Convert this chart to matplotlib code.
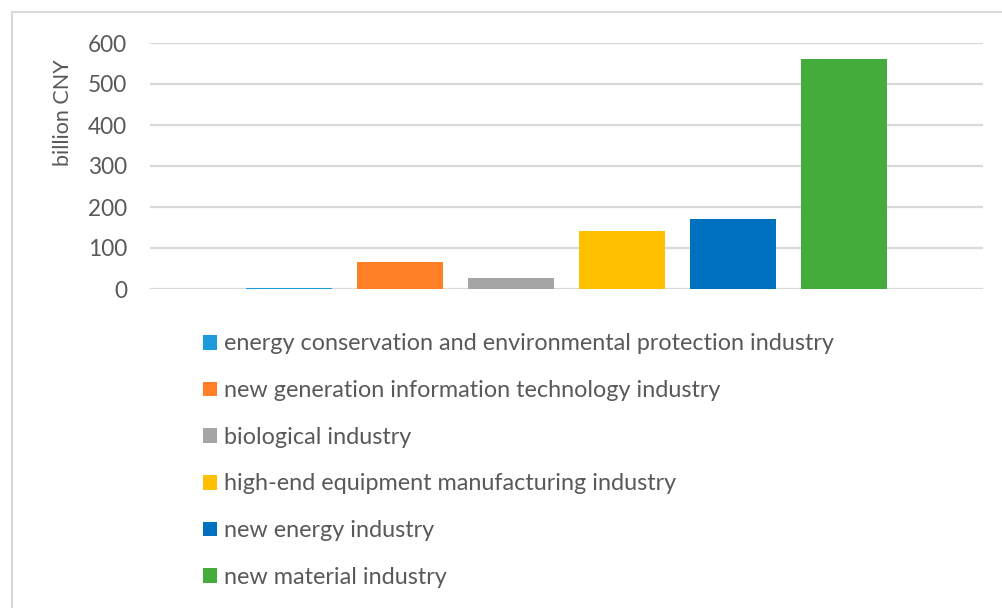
import matplotlib
matplotlib.use("Agg")
import matplotlib.pyplot as plt
from matplotlib.patches import Patch
from matplotlib.lines import Line2D

categories = [
    "energy conservation and environmental protection industry",
    "new generation information technology industry",
    "biological industry",
    "high-end equipment manufacturing industry",
    "new energy industry",
    "new material industry",
]
values = [3, 67, 28, 142, 171, 560]
colors = ["#1E9BDD", "#FF7F27", "#A5A5A5", "#FFC000", "#0070C0", "#43AC3A"]
yticks = [0, 100, 200, 300, 400, 500, 600]

W, H = 1003, 608
fig = plt.figure(figsize=(W / 100, H / 100), dpi=100)
plt.rcParams['font.family'] = ['Lato', 'DejaVu Sans']
txt = "#595959"
grid = "#D9D9D9"

ax = fig.add_axes([150 / W, 1 - 289 / H, (983 - 150) / W, (289 - 43) / H])
x = list(range(len(values)))
ax.bar(x, values, width=0.775, color=colors, zorder=3)
ax.set_xlim(-1.257, len(values) - 1 + 1.257)
ax.set_ylim(0, 600)
ax.set_yticks(yticks)
ax.set_yticklabels([str(t) for t in yticks])
ax.tick_params(axis='y', length=0, pad=16.5, labelsize=16.3, labelcolor=txt)
ax.set_xticks([])
for s in ax.spines.values():
    s.set_visible(False)
ax.yaxis.grid(True, color=grid, linewidth=1.6, zorder=0)
ax.set_axisbelow(True)

fig.text(63 / W, 1 - 113 / H, "billion CNY", rotation=90, ha='center', va='center',
         fontsize=15.5, color=txt)

handles = [Patch(facecolor=c, edgecolor='none') for c in colors]
leg = fig.legend(handles, categories, loc='upper left',
                 bbox_to_anchor=(203 / W, 1 - 333.5 / H), frameon=False,
                 fontsize=16.8, handlelength=0.6, handleheight=0.6,
                 handletextpad=0.3, labelspacing=1.1, borderpad=0, borderaxespad=0)
for t in leg.get_texts():
    t.set_color(txt)

# outer border
fig.add_artist(Line2D([12 / W, 1.0], [1 - 12 / H, 1 - 12 / H], color=grid, linewidth=1.5))
fig.add_artist(Line2D([12 / W, 12 / W], [0.0, 1 - 12 / H], color=grid, linewidth=1.5))

fig.savefig("out.png", dpi=100)
